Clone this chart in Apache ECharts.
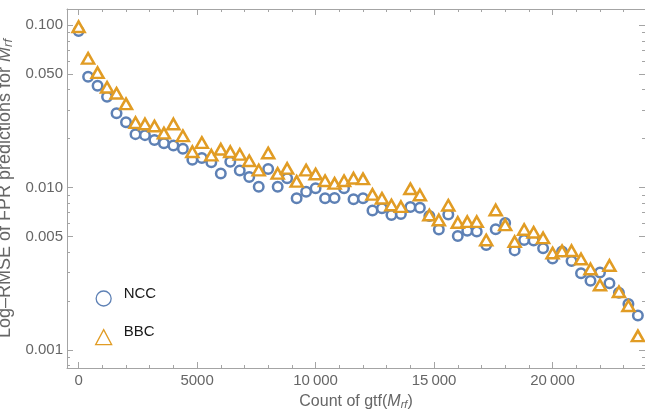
<!DOCTYPE html>
<html lang="en" style="height: 100%">
<head>
  <meta charset="utf-8">
</head>
<body style="height: 100%; margin: 0; background: #fff">
  <div id="container" style="height: 100%"></div>

  <script type="text/javascript" src="https://cdn.jsdelivr.net/npm/echarts@6.0.0/dist/echarts.min.js"></script>
  <script type="text/javascript">
    var dom = document.getElementById('container');
    var myChart = echarts.init(dom, null, { renderer: 'canvas' });

    // count of gtf(M_rf) for each point
    var gtfCount = [
      0, 400, 800, 1200, 1600, 2000, 2400, 2800, 3200, 3600,
      4000, 4400, 4800, 5200, 5600, 6000, 6400, 6800, 7200, 7600,
      8000, 8400, 8800, 9200, 9600, 10000, 10400, 10800, 11200, 11600,
      12000, 12400, 12800, 13200, 13600, 14000, 14400, 14800, 15200, 15600,
      16000, 16400, 16800, 17200, 17600, 18000, 18400, 18800, 19200, 19600,
      20000, 20400, 20800, 21200, 21600, 22000, 22400, 22800, 23200, 23600
    ];
    // Log-RMSE, NCC
    var nccRmse = [
      0.0920, 0.0481, 0.0423, 0.0362, 0.0286, 0.0252, 0.0213, 0.0210, 0.0196, 0.0187,
      0.0181, 0.0173, 0.0148, 0.0152, 0.0143, 0.0122, 0.0144, 0.0127, 0.0116, 0.0101,
      0.0130, 0.0101, 0.0114, 0.00858, 0.00942, 0.00989, 0.00858, 0.00862, 0.00989, 0.00846,
      0.00858, 0.00722, 0.00745, 0.00677, 0.00687, 0.00759, 0.00750, 0.00668, 0.00551, 0.00682,
      0.00503, 0.00542, 0.00535, 0.00443, 0.00553, 0.00605, 0.00410, 0.00475, 0.00472, 0.00422,
      0.00366, 0.00404, 0.00353, 0.00296, 0.00267, 0.00300, 0.00257, 0.00225, 0.00192, 0.00163
    ];
    // Log-RMSE, BBC
    var bbcRmse = [
      0.0976, 0.0624, 0.0509, 0.0414, 0.0380, 0.0327, 0.0251, 0.0246, 0.0239, 0.0216,
      0.0246, 0.0208, 0.0166, 0.0189, 0.0158, 0.0172, 0.0166, 0.0160, 0.0146, 0.0128,
      0.0163, 0.0122, 0.0131, 0.0109, 0.0128, 0.0121, 0.0110, 0.0106, 0.0110, 0.0114,
      0.0113, 0.00906, 0.00858, 0.00780, 0.00762, 0.00982, 0.00899, 0.00677, 0.00631, 0.00777,
      0.00609, 0.00616, 0.00616, 0.00475, 0.00727, 0.00588, 0.00464, 0.00551, 0.00530, 0.00489,
      0.00395, 0.00407, 0.00408, 0.00363, 0.00315, 0.00251, 0.00331, 0.00228, 0.00187, 0.00122
    ];

    var xTicks = [0, 5000, 10000, 15000, 20000];
    var xMinorTicks = [1000, 2000, 3000, 4000, 6000, 7000, 8000, 9000, 11000, 12000,
      13000, 14000, 16000, 17000, 18000, 19000, 21000, 22000, 23000];
    var yTicks = [0.001, 0.005, 0.01, 0.05, 0.1];
    var yMinorTicks = [0.0008, 0.0009, 0.002, 0.003, 0.004, 0.006, 0.007, 0.008, 0.009,
      0.02, 0.03, 0.04, 0.06, 0.07, 0.08, 0.09];

    var xMin = -490, xMax = 23900;
    var yMin = Math.log10(0.000774), yMax = Math.log10(0.1255);

    var frameColor = '#a4a4a4';
    var labelColor = '#666666';
    var font = '"Liberation Sans", Arial, sans-serif';

    function pairs(vals) {
      return gtfCount.map(function (x, i) { return [x, Math.log10(vals[i])]; });
    }

    function xLabel(v) {
      var s = String(v);
      if (v >= 10000) return s.slice(0, -3) + '\u2009' + s.slice(-3);
      return s;
    }

    function nameRich(size) {
      return {
        it: { fontStyle: 'italic', fontSize: size, color: labelColor, fontFamily: font, lineHeight: size + 2 },
        sub: { fontStyle: 'italic', fontSize: Math.round(size * 0.7), color: labelColor, fontFamily: font, lineHeight: 10, verticalAlign: 'bottom' }
      };
    }

    function frameAxis(pos, ticks, len, isMain) {
      var isX = pos === 'bottom' || pos === 'top';
      return {
        type: 'value',
        position: pos,
        min: isX ? xMin : yMin,
        max: isX ? xMax : yMax,
        axisLine: { show: isMain, onZero: false, lineStyle: { color: frameColor, width: 1 } },
        axisTick: {
          show: true, inside: true, length: len,
          customValues: isX ? ticks : ticks.map(Math.log10),
          lineStyle: { color: frameColor, width: 1 }
        },
        axisLabel: { show: false },
        splitLine: { show: false }
      };
    }

    var xMain = frameAxis('bottom', xTicks, 6, true);
    xMain.axisLabel = {
      show: true, customValues: xTicks, formatter: xLabel,
      color: labelColor, fontSize: 15, fontFamily: font, margin: 5
    };
    xMain.name = 'Count of gtf({it|M}{sub|rf})';
    xMain.nameLocation = 'middle';
    xMain.nameGap = 21;
    xMain.nameTextStyle = { color: labelColor, fontSize: 16, fontFamily: font, lineHeight: 18, rich: nameRich(16) };

    var yMain = frameAxis('left', yTicks, 6, true);
    yMain.axisLabel = {
      show: true, customValues: yTicks.map(Math.log10),
      formatter: function (v) { return Math.pow(10, v).toFixed(3); },
      color: labelColor, fontSize: 15, fontFamily: font, margin: 4
    };
    yMain.name = 'Log\u2013RMSE of FPR predictions for {it|M}{sub|rf}';
    yMain.nameLocation = 'middle';
    yMain.nameGap = 40;
    yMain.nameTextStyle = { color: labelColor, fontSize: 18, fontFamily: font, lineHeight: 20, rich: nameRich(18) };

    var option = {
      animation: false,
      backgroundColor: '#fff',
      grid: { left: 67, right: 0, top: 9, bottom: 43, outerBoundsMode: 'none', containLabel: false },
      legend: {
        orient: 'vertical',
        left: 95,
        top: 286,
        padding: 0,
        itemWidth: 16,
        itemHeight: 15,
        itemGap: 18,
        data: [{ name: 'NCC', icon: 'circle' }, { name: 'BBC', icon: 'triangle' }],
        itemStyle: { borderWidth: 1.3 },
        formatter: function (name) { return '{t|' + name + '}'; },
        textStyle: {
          fontSize: 15, color: '#1a1a1a', fontFamily: font,
          rich: { t: { fontSize: 15, color: '#1a1a1a', fontFamily: font, padding: [0, 0, 10, 7] } }
        }
      },
      xAxis: [
        xMain,
        frameAxis('bottom', xMinorTicks, 3, false),
        frameAxis('top', xTicks, 6, true),
        frameAxis('top', xMinorTicks, 3, false)
      ],
      yAxis: [
        yMain,
        frameAxis('left', yMinorTicks, 3, false),
        frameAxis('right', yTicks, 6, true),
        frameAxis('right', yMinorTicks, 3, false)
      ],
      series: [
        {
          name: 'NCC',
          type: 'scatter',
          data: pairs(nccRmse),
          symbol: 'circle',
          symbolSize: 9.5,
          itemStyle: { color: '#fff', borderColor: '#5e81b5', borderWidth: 2.5, opacity: 1 }
        },
        {
          name: 'BBC',
          type: 'scatter',
          data: pairs(bbcRmse),
          symbol: 'triangle',
          symbolSize: [12, 10.5],
          itemStyle: { color: '#fff', borderColor: '#e19c24', borderWidth: 2.5, opacity: 1 }
        }
      ]
    };

    myChart.setOption(option);
    window.addEventListener('resize', myChart.resize);
  </script>
</body>
</html>
